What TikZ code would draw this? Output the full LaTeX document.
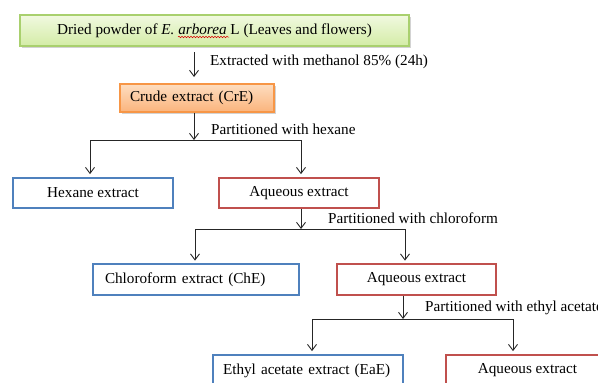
\documentclass[tikz,border=0pt]{standalone}
\usepackage{fontspec}
\setmainfont{Liberation Serif}
\usetikzlibrary{arrows.meta,shadows,decorations.pathmorphing,calc}
\definecolor{gborder}{HTML}{A9D06E}
\definecolor{gtop}{HTML}{F1F9E0}
\definecolor{gbot}{HTML}{D3ECA6}
\definecolor{oborder}{HTML}{F79646}
\definecolor{otop}{HTML}{FDDDC0}
\definecolor{obot}{HTML}{FBB47C}
\definecolor{myblue}{HTML}{4F81BD}
\definecolor{myred}{HTML}{C0504D}
\begin{document}
\begin{tikzpicture}[x=1pt,y=-1pt,
  every node/.style={font=\fontsize{15.2}{18}\selectfont, inner sep=0pt},
  box/.style={draw, line width=1.8pt, minimum height=30pt, fill=white},
  bluebox/.style={box, draw=myblue},
  redbox/.style={box, draw=myred},
  topbox/.style={draw=gborder, line width=1.2pt, top color=gtop, bottom color=gbot,
     drop shadow={shadow xshift=1.5pt, shadow yshift=-1.8pt, opacity=0.35}},
  crudebox/.style={draw=oborder, line width=1.2pt, top color=otop, bottom color=obot,
     drop shadow={shadow xshift=1.5pt, shadow yshift=-1.8pt, opacity=0.35}},
  conn/.style={draw=black!85, line width=0.9pt},
  arr/.style={conn, -{Straight Barb[length=6pt,width=9pt]}},
  lbl/.style={anchor=west}]
\useasboundingbox (0,0) rectangle (598,383);
\clip (0,0) rectangle (598,383);

% boxes
\node[topbox, minimum width=389pt, minimum height=31pt] (top) at (214.5,30.5)
  {Dried powder of \textit{E. arborea} L (Leaves and flowers)};
\node[crudebox, minimum height=28pt, text width=134pt, inner xsep=10pt, align=left] (crude) at (197,98)
  {Crude extract (CrE)};
\node[bluebox, minimum width=160pt] (hex) at (93,193) {Hexane extract};
\node[redbox, minimum width=160pt] (aq1) at (299,193) {Aqueous extract};
\node[bluebox, minimum height=31pt, text width=182pt, inner xsep=12pt, align=left] (chf) at (196,279.5)
  {Chloroform extract (ChE)};
\node[redbox, minimum width=159pt, minimum height=31pt] (aq2) at (416.5,279.5) {Aqueous extract};
\node[bluebox, minimum height=31pt, text width=170pt, inner xsep=10pt, align=left] (eae) at (308,370.5)
  {Ethyl acetate extract (EaE)};
\node[redbox, minimum width=163pt, minimum height=31pt] (aq3) at (527.5,370.5) {Aqueous extract};

% spell-check underline
\draw[red!85!black, line width=0.5pt, decorate, decoration={snake, amplitude=0.8pt, segment length=3pt}]
  (178,37) -- (229,37);

% step 1
\coordinate (a1s) at (194,52);
\coordinate (a1e) at (194,77);
\draw[arr] (a1s) -- (a1e);
\node[lbl] (l1) at (210,62) {Extracted with methanol 85\% (24h)};

% branch 1
\coordinate (j1) at (194,140);
\coordinate (j1l) at (90,140);
\coordinate (j1r) at (301,140);
\draw[arr] (j1 |- crude.south) -- (j1);
\draw[conn] (j1l) -- (j1r);
\draw[arr, shorten >=3pt] (j1l) -- (j1l |- hex.north);
\draw[arr, shorten >=3pt] (j1r) -- (j1r |- aq1.north);
\node[lbl] (l2) at (211,129) {Partitioned with hexane};

% branch 2
\coordinate (j2) at (301,229);
\coordinate (j2l) at (195,229);
\coordinate (j2r) at (405,229);
\draw[arr] (j2 |- aq1.south) -- (j2);
\draw[conn] (j2l) -- (j2r);
\draw[arr, shorten >=2.5pt] (j2l) -- (j2l |- chf.north);
\draw[arr, shorten >=2.5pt] (j2r) -- (j2r |- aq2.north);
\node[lbl] (l3) at (328,218) {Partitioned with chloroform};

% branch 3
\coordinate (j3) at (403,319);
\coordinate (j3l) at (312,319);
\coordinate (j3r) at (513,319);
\draw[arr] (j3 |- aq2.south) -- (j3);
\draw[conn] (j3l) -- (j3r);
\draw[arr, shorten >=3pt] (j3l) -- (j3l |- eae.north);
\draw[arr, shorten >=3pt] (j3r) -- (j3r |- aq3.north);
\node[lbl] (l4) at (425,308) {Partitioned with ethyl acetate};
\end{tikzpicture}
\end{document}
